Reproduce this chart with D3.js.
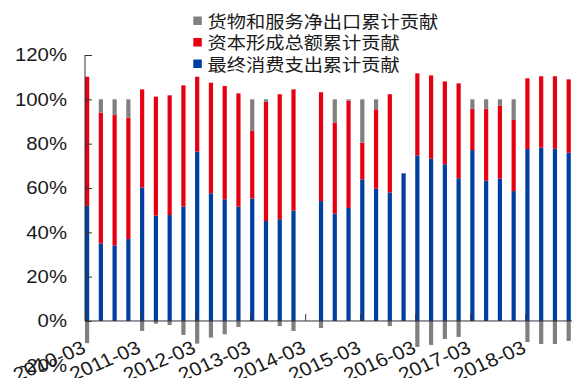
<!DOCTYPE html>
<html>
<head>
<meta charset="utf-8">
<script src="https://cdn.jsdelivr.net/npm/d3@7"></script>
<style>
html,body{margin:0;padding:0;background:#fff;}
svg{display:block;}
text{font-family:"Liberation Sans",Arial,sans-serif;fill:#1a1a1a;}
.lg{font-family:"Noto Sans CJK SC","Noto Sans",sans-serif;}
</style>
</head>
<body>
<svg id="chart" width="577" height="378"></svg>
<script>
const categories = [
  "2010-03","2010-06","2010-09","2010-12",
  "2011-03","2011-06","2011-09","2011-12",
  "2012-03","2012-06","2012-09","2012-12",
  "2013-03","2013-06","2013-09","2013-12",
  "2014-03","2014-06","2014-09","2014-12",
  "2015-03","2015-06","2015-09","2015-12",
  "2016-03","2016-06","2016-09","2016-12",
  "2017-03","2017-06","2017-09","2017-12",
  "2018-03","2018-06","2018-09","2018-12"
];
// 最终消费支出累计贡献 (%)
const consumption = [51.9,35.0,34.1,37.0,60.2,47.5,47.8,51.6,76.4,57.6,54.9,51.6,
  55.3,45.1,45.9,49.8,null,54.1,48.4,51.0,63.9,59.7,58.0,66.6,
  74.7,73.2,70.7,64.4,77.1,63.3,64.2,58.6,77.6,78.2,77.7,75.9];
// 资本形成总额累计贡献 (%)
const capital = [58.3,59.0,58.8,54.7,44.3,53.7,54.0,54.7,33.8,49.9,51.1,51.1,
  30.4,53.8,56.4,54.7,null,49.1,41.1,48.4,16.6,35.8,44.3,null,
  37.0,37.6,37.4,42.8,18.7,32.5,32.9,32.1,31.9,32.2,32.7,33.1];
// 货物和服务净出口累计贡献 (%)
const netExport = [-10.0,6.0,7.1,8.3,-4.5,-1.2,-1.8,-6.3,-10.2,-7.5,-6.0,-2.7,
  14.3,1.1,-2.3,-4.5,null,-3.2,10.5,0.6,19.5,4.5,-2.3,null,
  -11.7,-10.8,-8.1,-7.2,4.2,4.2,2.9,9.3,-9.5,-10.4,-10.4,-9.0];
const yTicks = [-20,0,20,40,60,80,100,120];
const xLabels = categories.filter((d,i)=>i%4===0);
const seriesNames = ["最终消费支出累计贡献","资本形成总额累计贡献","货物和服务净出口累计贡献"];
const legendOrder = ["货物和服务净出口累计贡献","资本形成总额累计贡献","最终消费支出累计贡献"];
const colors = {"最终消费支出累计贡献":"#003f9f","资本形成总额累计贡献":"#e60012","货物和服务净出口累计贡献":"#808080"};

const svg = d3.select("#chart");
svg.append("rect").attr("width",577).attr("height",378).attr("fill","#fff");

const axisX0 = 85, step = 13.76, barW = 4.2;
const x = d3.scalePoint().domain(categories).range([axisX0, axisX0 + step*(categories.length-1)]);
const y = d3.scaleLinear().domain([-20,120]).range([365.3,55]);

const table = categories.map((c,i)=>({
  cat:c,
  [seriesNames[0]]: consumption[i] ?? 0,
  [seriesNames[1]]: capital[i] ?? 0,
  [seriesNames[2]]: netExport[i] ?? 0
}));
const stacked = d3.stack().keys(seriesNames).offset(d3.stackOffsetDiverging)(table);

const g = svg.append("g");
stacked.forEach(s=>{
  g.selectAll(null).data(s.filter(d=>d[1]!==d[0])).join("rect")
    .attr("x", d=>x(d.data.cat))
    .attr("width", barW)
    .attr("y", d=>y(Math.max(d[0],d[1])))
    .attr("height", d=>Math.abs(y(d[0])-y(d[1])))
    .attr("fill", colors[s.key]);
});

// y axis
const yAxis = d3.axisRight(y).tickValues(yTicks.filter(v=>v>=0)).tickSize(7).tickFormat("");
const ya = svg.append("g").attr("transform",`translate(${axisX0},0)`).call(yAxis);
ya.select(".domain").remove();
ya.selectAll("line").attr("stroke","#333");
svg.append("line").attr("x1",axisX0).attr("x2",axisX0).attr("y1",y(120)).attr("y2",y(0)).attr("stroke","#333");

// y labels
svg.append("g").selectAll("text").data(yTicks).join("text")
  .attr("transform", d=>`translate(67,${y(d)}) scale(1.1,1)`)
  .attr("text-anchor","end").attr("dy","0.35em")
  .style("font-size","18.5px")
  .text(d=>d+"%");

// x axis
const xAxis = d3.axisTop(x).tickValues(xLabels).tickSize(7).tickFormat("");
const xa = svg.append("g").attr("transform",`translate(0,${y(0)})`).call(xAxis);
xa.select(".domain").remove();
xa.selectAll("line").attr("stroke","#333");
svg.append("line").attr("x1",axisX0).attr("x2",572).attr("y1",y(0)).attr("y2",y(0)).attr("stroke","#333");

// x labels
svg.append("g").selectAll("text").data(xLabels).join("text")
  .attr("transform", d=>`translate(${x(d)+2},352) scale(1.1,1) rotate(-25)`)
  .attr("text-anchor","end")
  .style("font-size","19px")
  .text(d=>d);

// legend
const lg = svg.append("g");
legendOrder.forEach((name,i)=>{
  const by = 27.5 + i*21.5;
  lg.append("rect").attr("x",193.3).attr("y",by-11).attr("width",8.5).attr("height",8.5).attr("fill",colors[name]);
  lg.append("text").attr("class","lg")
    .attr("transform",`translate(207.5,${by}) scale(1.1,1)`)
    .style("font-size","17.5px")
    .text(name);
});
</script>
</body>
</html>
